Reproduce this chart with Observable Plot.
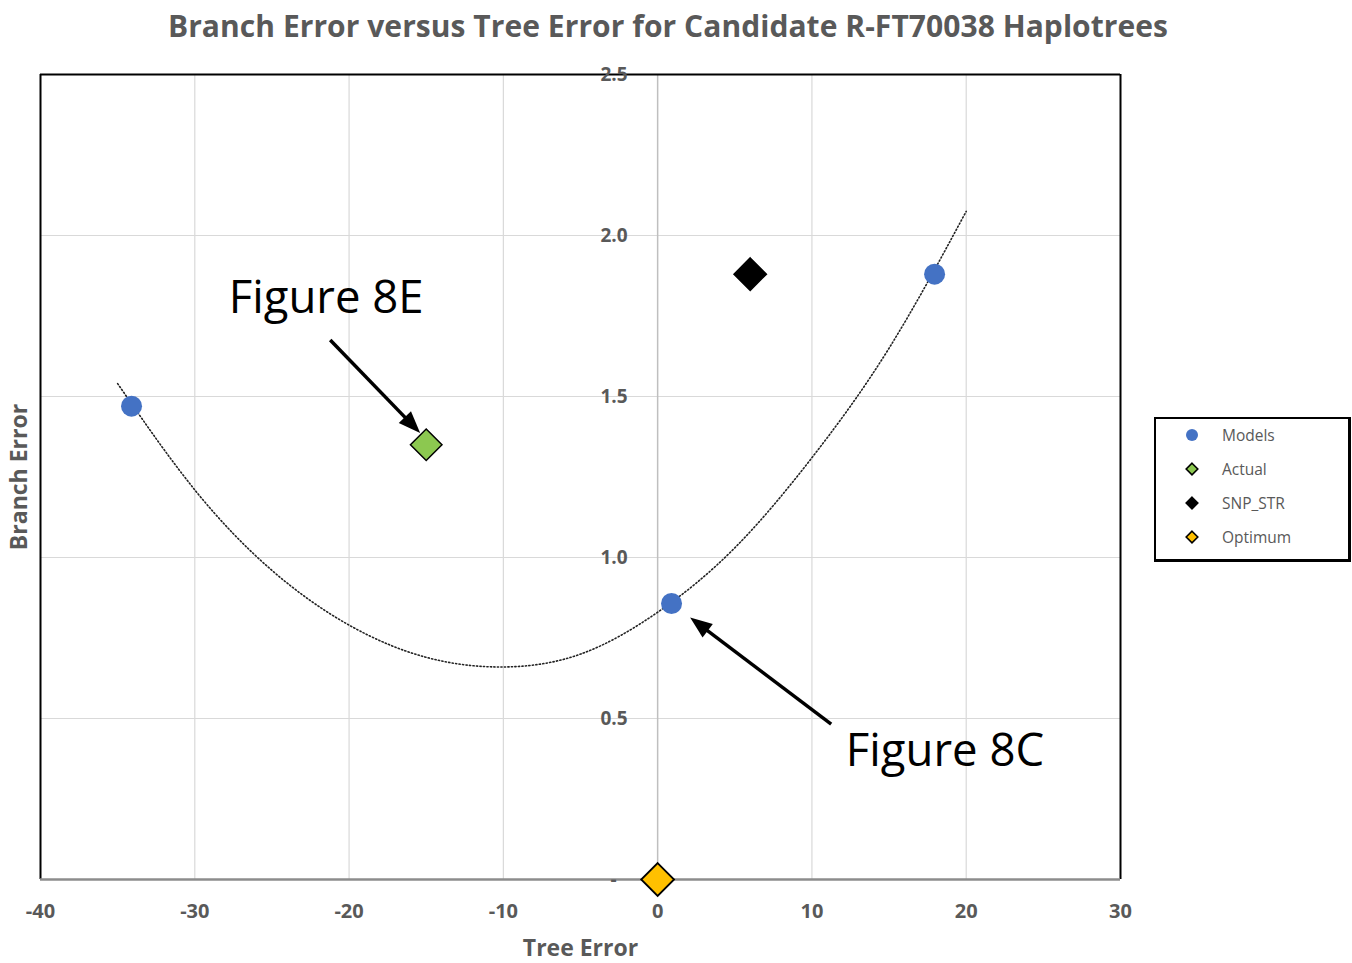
<!DOCTYPE html>
<html>
<head>
<meta charset="utf-8">
<script src="https://cdn.jsdelivr.net/npm/d3@7"></script>
<script src="https://cdn.jsdelivr.net/npm/@observablehq/plot@0.6"></script>
<style>
  html, body { margin: 0; padding: 0; background: #fff; }
  #wrap { position: relative; width: 1352px; height: 963px; overflow: hidden; font-family: "Open Sans", sans-serif; }
  #chart { position: absolute; left: 0; top: 0; }
  #title { position: absolute; left: 0; top: 11px; width: 1352px; text-align: center; white-space: nowrap;
           font: 700 30px/30px "Open Sans", sans-serif; color: #595959; }
  #title span { display: inline-block; margin-left: -16px; }
  #legend { position: absolute; left: 1154px; top: 417px; width: 192px; height: 140px;
            border: 2px solid #000; border-right-width: 3px; border-bottom-width: 3px; background: #fff; }
  .row { position: absolute; left: 0; height: 20px; width: 190px; }
  .row svg { position: absolute; left: 28px; top: 2px; }
  .row span { position: absolute; left: 66px; top: 0; font: 400 15.5px/20px "Open Sans", sans-serif; color: #595959; }
</style>
</head>
<body>
<div id="wrap">
  <div id="chart"></div>
  <div id="title"><span id="titletext">Branch Error versus Tree Error for Candidate R-FT70038 Haplotrees</span></div>
  <div id="legend"></div>
</div>
<script>
// ---- data ----
const xTicks = [-40, -30, -20, -10, 0, 10, 20, 30];
const xGrid = [-30, -20, -10, 10, 20];
const yTicks = [0.5, 1.0, 1.5, 2.0, 2.5];
const yTickLabels = ["0.5", "1.0", "1.5", "2.0", "2.5"];
const yZeroLabel = "-";
const yGrid = [0.5, 1.0, 1.5, 2.0];

const modelsX = [-34.1, 0.9, 17.95];
const modelsY = [1.47, 0.857, 1.88];
const actualX = [-15.0];
const actualY = [1.35];
const snpX = [6.0];
const snpY = [1.88];
const optimumX = [0];
const optimumY = [0];

// polynomial trendline
const trendX = [-35, -30, -25, -20, -15, -10, -5, 0, 5, 10, 15, 20];
const trendY = [1.54, 1.21, 0.96, 0.79, 0.69, 0.66, 0.70, 0.83, 1.03, 1.31, 1.65, 2.075];

const noteText = ["Figure 8E", "Figure 8C"];
const noteX = [-27.8, 12.2];
const noteY = [1.804, 0.3975];
const arrowX1 = [-21.19, 11.28];
const arrowY1 = [1.674, 0.481];
const arrowX2 = [-15.36, 2.14];
const arrowY2 = [1.385, 0.812];

const legendNames = ["Models", "Actual", "SNP_STR", "Optimum"];
const legendColors = ["#4472C4", "#8CC850", "#000000", "#FFC000"];

// ---- tables ----
const models = modelsX.map((x, i) => ({x, y: modelsY[i]}));
const actual = actualX.map((x, i) => ({x, y: actualY[i]}));
const snp = snpX.map((x, i) => ({x, y: snpY[i]}));
const optimum = optimumX.map((x, i) => ({x, y: optimumY[i]}));
const trend = trendX.map((x, i) => ({x, y: trendY[i]}));
const notes = noteText.map((t, i) => ({t, x: noteX[i], y: noteY[i]}));
const arrows = arrowX1.map((x1, i) => ({x1, y1: arrowY1[i], x2: arrowX2[i], y2: arrowY2[i]}));
const yLab = yTicks.map((y, i) => ({y, t: yTickLabels[i]}));

const grey = "#595959";
const font = "Open Sans";

function arrowRender(index, scales, values) {
  const g = d3.create("svg:g");
  const X1 = values.x1, Y1 = values.y1, X2 = values.x2, Y2 = values.y2;
  for (const i of index) {
    const dx = X2[i] - X1[i], dy = Y2[i] - Y1[i];
    const L = Math.hypot(dx, dy), ux = dx / L, uy = dy / L;
    const hl = 22, hw = 8.5;
    const bx = X2[i] - ux * hl, by = Y2[i] - uy * hl;
    g.append("line")
      .attr("x1", X1[i]).attr("y1", Y1[i])
      .attr("x2", bx + ux * 2).attr("y2", by + uy * 2)
      .attr("stroke", "#000").attr("stroke-width", 3.5);
    g.append("path")
      .attr("d", `M${X2[i]},${Y2[i]}L${bx - uy * hw},${by + ux * hw}L${bx + uy * hw},${by - ux * hw}Z`)
      .attr("fill", "#000");
  }
  return g.node();
}

const plot = Plot.plot({
  width: 1352,
  height: 963,
  marginLeft: 40,
  marginRight: 232,
  marginTop: 74,
  marginBottom: 84,
  x: {domain: [-40, 30], axis: null},
  y: {domain: [0, 2.5], axis: null},
  style: {fontFamily: font, background: "#fff"},
  marks: [
    Plot.ruleX(xGrid, {stroke: "#d9d9d9", strokeWidth: 1.2}),
    Plot.ruleY(yGrid, {stroke: "#d9d9d9", strokeWidth: 1.2}),
    Plot.ruleX([0], {stroke: "#bfbfbf", strokeWidth: 1.5}),
    Plot.ruleX([-40, 30], {stroke: "#000", strokeWidth: 2}),
    Plot.ruleY([2.5], {stroke: "#000", strokeWidth: 2}),
    Plot.ruleY([0], {stroke: "#8c8c8c", strokeWidth: 2.5}),
    Plot.line(trend, {x: "x", y: "y", curve: "natural", stroke: "#222", strokeWidth: 1.6, strokeDasharray: "1.2 2.3"}),
    Plot.dot(models, {x: "x", y: "y", r: 10.5, fill: legendColors[0], stroke: "none"}),
    Plot.dot(actual, {x: "x", y: "y", r: 14.2, symbol: "diamond2", fill: legendColors[1], stroke: "#000", strokeWidth: 1.5}),
    Plot.dot(snp, {x: "x", y: "y", r: 14.6, symbol: "diamond2", fill: legendColors[2], stroke: "#000", strokeWidth: 1.5}),
    Plot.dot(optimum, {x: "x", y: "y", r: 14.8, symbol: "diamond2", fill: legendColors[3], stroke: "#000", strokeWidth: 1.8}),
    Plot.link(arrows, {x1: "x1", y1: "y1", x2: "x2", y2: "y2", render: arrowRender}),
    Plot.text(notes, {x: "x", y: "y", text: "t", textAnchor: "start", fontSize: 45.5, fill: "#000", fontFamily: font}),
    // y tick labels, placed at the x = 0 line
    Plot.text(yLab, {x: 0, y: "y", text: "t", dx: -30, textAnchor: "end", fontSize: 19, fontWeight: 700, fill: grey}),
    Plot.text([0], {x: 0, y: d => d, text: () => yZeroLabel, dx: -41, textAnchor: "end", fontSize: 19, fontWeight: 700, fill: grey}),
    // x tick labels
    Plot.text(xTicks, {x: d => d, frameAnchor: "bottom", lineAnchor: "middle", dy: 32, fontSize: 20, fontWeight: 700, fill: grey}),
    // axis titles
    Plot.text(["Tree Error"], {frameAnchor: "bottom", lineAnchor: "middle", dy: 69, fontSize: 23, fontWeight: 700, fill: grey}),
    Plot.text(["Branch Error"], {frameAnchor: "left", textAnchor: "middle", lineAnchor: "middle", dx: -21, rotate: -90, fontSize: 23, fontWeight: 700, fill: grey})
  ]
});
document.getElementById("chart").appendChild(plot);

// title spacing to match reference width
const tt = document.getElementById("titletext");
const w = tt.getBoundingClientRect().width;
const n = tt.textContent.length;
tt.style.letterSpacing = ((1000 - w) / (n - 1)) + "px";

// legend
const legend = document.getElementById("legend");
legendNames.forEach((name, i) => {
  const row = document.createElement("div");
  row.className = "row";
  row.style.top = (6 + i * 34) + "px";
  const svg = d3.create("svg").attr("width", 16).attr("height", 16);
  if (i === 0) {
    svg.append("circle").attr("cx", 8).attr("cy", 8).attr("r", 6).attr("fill", legendColors[i]);
  } else {
    svg.append("path").attr("d", "M8,2.2L13.8,8L8,13.8L2.2,8Z")
      .attr("fill", legendColors[i]).attr("stroke", "#000").attr("stroke-width", 1.6);
  }
  row.appendChild(svg.node());
  const sp = document.createElement("span");
  sp.textContent = name;
  row.appendChild(sp);
  legend.appendChild(row);
});
</script>
</body>
</html>
